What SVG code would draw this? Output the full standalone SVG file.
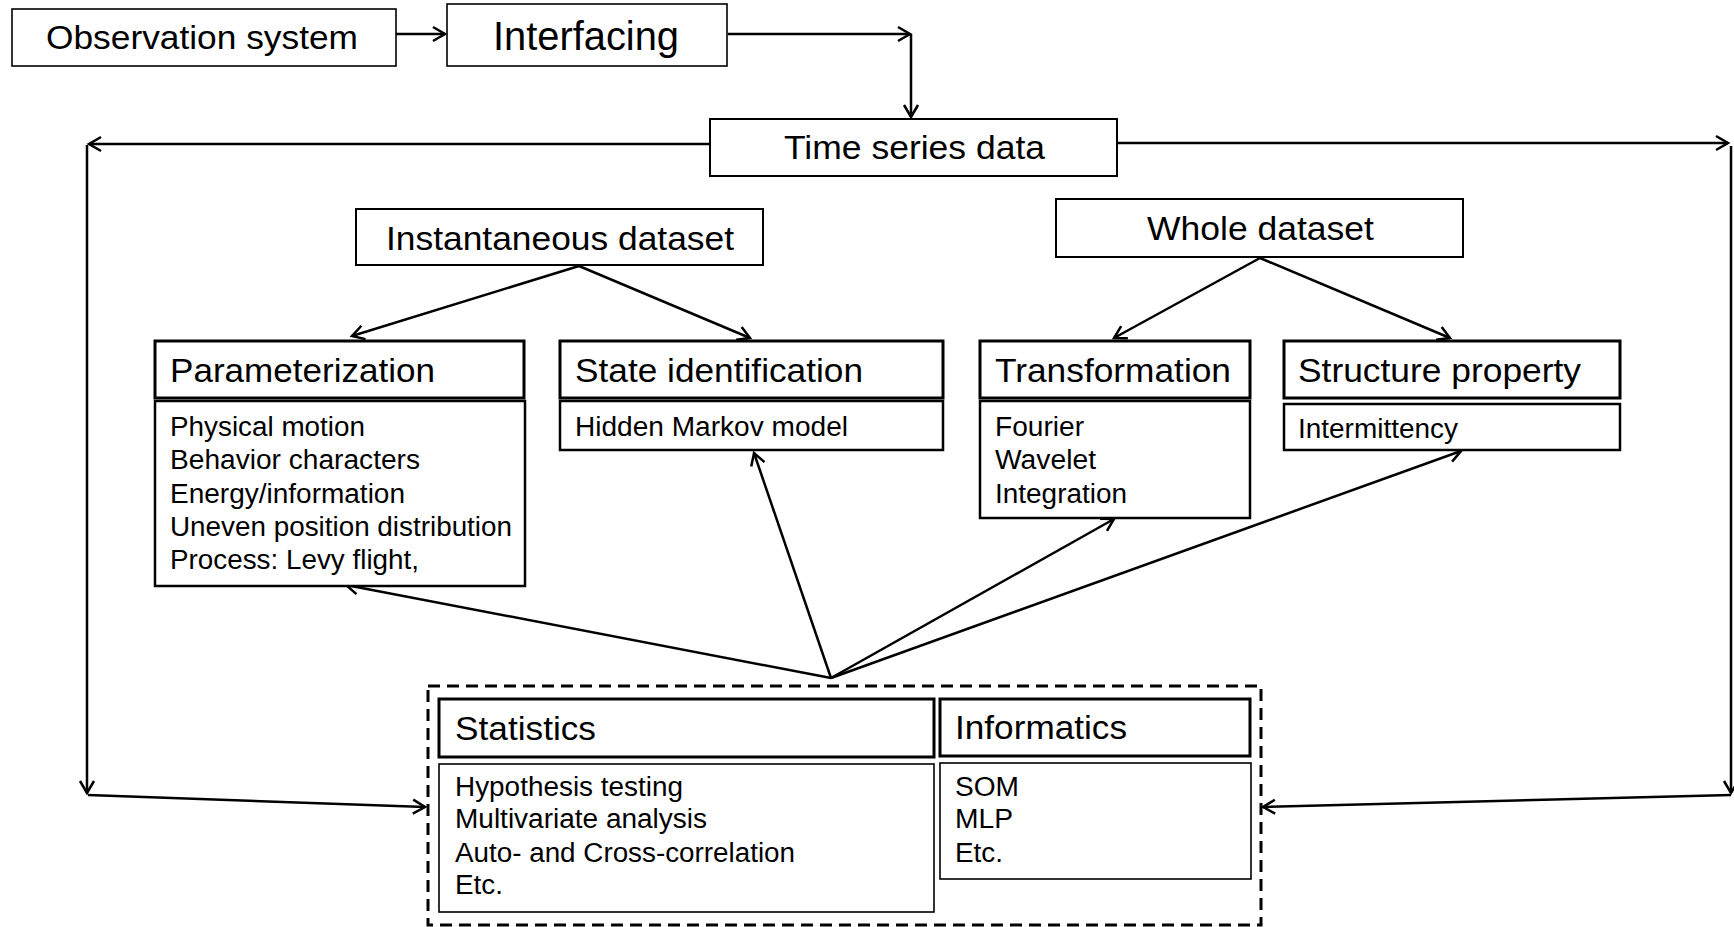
<svg xmlns="http://www.w3.org/2000/svg" width="1734" height="927" viewBox="0 0 1734 927">
<defs>
<marker id="arr" markerWidth="20" markerHeight="20" refX="14" refY="8" orient="auto" markerUnits="userSpaceOnUse" overflow="visible">
<path d="M2,1 L14,8 L2,15" fill="none" stroke="#000" stroke-width="2.5"/>
</marker>
<style>
text{font-family:"Liberation Sans",Arial,sans-serif;fill:#000}
.t{font-size:34px}
.b{font-size:27px}
.box{fill:#fff;stroke:#000;stroke-width:2}
.hd{fill:#fff;stroke:#000;stroke-width:3}
.bd{fill:#fff;stroke:#000;stroke-width:2.5}
.thin{fill:#fff;stroke:#000;stroke-width:1.6}
.c{fill:none;stroke:#000;stroke-width:2.5}
.ca{fill:none;stroke:#000;stroke-width:2.5;marker-end:url(#arr)}
.dash{fill:none;stroke:#000;stroke-width:3;stroke-dasharray:12 7}
</style>
</defs>
<rect width="1734" height="927" fill="#fff"/>

<g id="connectors">
<line class="ca" x1="396" y1="34" x2="445" y2="34"/>
<line class="ca" x1="728" y1="34" x2="910" y2="34"/>
<line class="ca" x1="911" y1="34" x2="911" y2="117"/>
<line class="ca" x1="710" y1="144" x2="89" y2="144"/>
<line class="ca" x1="87" y1="145" x2="87" y2="793"/>
<line class="ca" x1="88" y1="795" x2="425" y2="807"/>
<line class="ca" x1="1117" y1="143" x2="1728" y2="143"/>
<line class="ca" x1="1731" y1="146" x2="1731" y2="793"/>
<line class="ca" x1="1731" y1="795" x2="1263" y2="807"/>
<line class="ca" x1="579" y1="266" x2="352" y2="336"/>
<line class="ca" x1="579" y1="266" x2="750" y2="338"/>
<line class="ca" x1="1260" y1="258" x2="1114" y2="338"/>
<line class="ca" x1="1260" y1="258" x2="1450" y2="338"/>
<line class="ca" x1="831" y1="678" x2="346" y2="585"/>
<line class="ca" x1="831" y1="678" x2="754" y2="453"/>
<line class="ca" x1="831" y1="678" x2="1114" y2="519"/>
<line class="ca" x1="831" y1="678" x2="1461" y2="451"/>
</g>

<g id="observation">
<rect class="thin" x="12" y="9" width="384" height="57"/>
<text class="t" x="46" y="49" textLength="312" lengthAdjust="spacingAndGlyphs">Observation system</text>
</g>
<g id="interfacing">
<rect class="thin" x="447" y="4" width="280" height="62"/>
<text x="493" y="50" font-size="40" textLength="186" lengthAdjust="spacingAndGlyphs">Interfacing</text>
</g>
<g id="timeseries">
<rect class="box" x="710" y="119" width="407" height="57"/>
<text class="t" x="784" y="159" textLength="261" lengthAdjust="spacingAndGlyphs">Time series data</text>
</g>
<g id="instantaneous">
<rect class="box" x="356" y="209" width="407" height="56"/>
<text class="t" x="386" y="250" textLength="348" lengthAdjust="spacingAndGlyphs">Instantaneous dataset</text>
</g>
<g id="whole">
<rect class="box" x="1056" y="199" width="407" height="58"/>
<text class="t" x="1147" y="240" textLength="227" lengthAdjust="spacingAndGlyphs">Whole dataset</text>
</g>

<g id="parameterization">
<rect class="hd" x="155" y="341" width="369" height="57"/>
<text class="t" x="170" y="382" textLength="265" lengthAdjust="spacingAndGlyphs">Parameterization</text>
<rect class="bd" x="155" y="401" width="370" height="185"/>
<text class="b" x="170" y="436" textLength="195" lengthAdjust="spacingAndGlyphs">Physical motion</text>
<text class="b" x="170" y="469" textLength="250" lengthAdjust="spacingAndGlyphs">Behavior characters</text>
<text class="b" x="170" y="503" textLength="235" lengthAdjust="spacingAndGlyphs">Energy/information</text>
<text class="b" x="170" y="536" textLength="342" lengthAdjust="spacingAndGlyphs">Uneven position distribution</text>
<text class="b" x="170" y="569" textLength="249" lengthAdjust="spacingAndGlyphs">Process: Levy flight,</text>
</g>

<g id="stateid">
<rect class="hd" x="560" y="341" width="383" height="57"/>
<text class="t" x="575" y="382" textLength="288" lengthAdjust="spacingAndGlyphs">State identification</text>
<rect class="bd" x="560" y="401" width="383" height="49"/>
<text class="b" x="575" y="436" textLength="273" lengthAdjust="spacingAndGlyphs">Hidden Markov model</text>
</g>

<g id="transformation">
<rect class="hd" x="980" y="341" width="270" height="57"/>
<text class="t" x="995" y="382" textLength="236" lengthAdjust="spacingAndGlyphs">Transformation</text>
<rect class="bd" x="980" y="401" width="270" height="117"/>
<text class="b" x="995" y="436" textLength="89" lengthAdjust="spacingAndGlyphs">Fourier</text>
<text class="b" x="995" y="469" textLength="101" lengthAdjust="spacingAndGlyphs">Wavelet</text>
<text class="b" x="995" y="503" textLength="132" lengthAdjust="spacingAndGlyphs">Integration</text>
</g>

<g id="structure">
<rect class="hd" x="1284" y="341" width="336" height="57"/>
<text class="t" x="1298" y="382" textLength="283" lengthAdjust="spacingAndGlyphs">Structure property</text>
<rect class="bd" x="1284" y="404" width="336" height="46"/>
<text class="b" x="1298" y="438" textLength="160" lengthAdjust="spacingAndGlyphs">Intermittency</text>
</g>

<g id="methods">
<rect class="dash" x="428" y="686" width="833" height="239"/>
</g>

<g id="statistics">
<rect class="hd" x="439" y="699" width="495" height="58"/>
<text class="t" x="455" y="740" textLength="141" lengthAdjust="spacingAndGlyphs">Statistics</text>
<rect class="thin" x="439" y="764" width="495" height="148"/>
<text class="b" x="455" y="796" textLength="228" lengthAdjust="spacingAndGlyphs">Hypothesis testing</text>
<text class="b" x="455" y="828" textLength="252" lengthAdjust="spacingAndGlyphs">Multivariate analysis</text>
<text class="b" x="455" y="862" textLength="340" lengthAdjust="spacingAndGlyphs">Auto- and Cross-correlation</text>
<text class="b" x="455" y="894" textLength="48" lengthAdjust="spacingAndGlyphs">Etc.</text>
</g>

<g id="informatics">
<rect class="hd" x="940" y="699" width="310" height="57"/>
<text class="t" x="955" y="739" textLength="172" lengthAdjust="spacingAndGlyphs">Informatics</text>
<rect class="thin" x="940" y="763" width="311" height="116"/>
<text class="b" x="955" y="796" textLength="64" lengthAdjust="spacingAndGlyphs">SOM</text>
<text class="b" x="955" y="828" textLength="58" lengthAdjust="spacingAndGlyphs">MLP</text>
<text class="b" x="955" y="862" textLength="48" lengthAdjust="spacingAndGlyphs">Etc.</text>
</g>
</svg>
